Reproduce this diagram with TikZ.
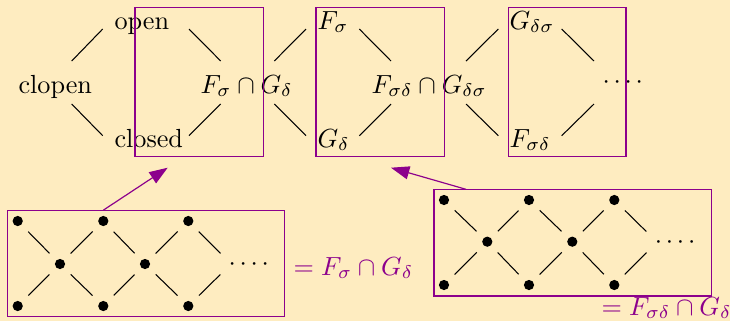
\documentclass[tikz,border=0pt]{standalone}
\usetikzlibrary{arrows.meta,fit}
\definecolor{bg}{RGB}{254,236,192}
\definecolor{vio}{RGB}{140,0,140}
\newcommand{\fourdots}{$\mathord{\cdot}\mkern2.6mu\mathord{\cdot}\mkern2.6mu\mathord{\cdot}\mkern2.6mu\mathord{\cdot}$}
\begin{document}
\begin{tikzpicture}[x=0.3817pt,y=-0.3817pt,
  lbl/.style={inner sep=0pt, anchor=base west},
  edge/.style={line width=0.4pt},
  dotn/.style={circle, fill, inner sep=0pt, minimum size=3.9pt},
  lat/.style={line width=0.4pt, shorten <=5.7pt, shorten >=5.7pt},
  frame/.style={draw=vio, line width=0.4pt, inner sep=0pt, fit=#1},
  arr/.style={draw=vio, line width=0.45pt, -{Triangle[length=7pt,width=5pt]}}
]
\fill[bg] (0,0) rectangle (730,321);
\useasboundingbox (0,0) rectangle (730,321);

% top row texts
\node[lbl] (clopen) at (18,93) {clopen};
\node[lbl] (open) at (114,29) {open};
\node[lbl] (closed) at (114,147) {closed};
\node[lbl] (fg) at (200,93) {$F_\sigma\cap G_\delta$};
\node[lbl] (fs) at (317,29) {$F_\sigma$};
\node[lbl] (gd) at (317,147) {$G_\delta$};
\node[lbl] (fg2) at (371,93) {$F_{\sigma\delta}\cap G_{\delta\sigma}$};
\node[lbl] (gds) at (509,29) {$G_{\delta\sigma}$};
\node[lbl] (fsd) at (509,147) {$F_{\sigma\delta}$};
\node[lbl] (tdots) at (602,88.5) {\fourdots};

% top connectors
\coordinate (l1a) at (71.7,61);   \coordinate (l1b) at (102.7,29);
\coordinate (l2a) at (71.7,104);  \coordinate (l2b) at (102.7,135.7);
\coordinate (l3a) at (189,29);    \coordinate (l3b) at (220.7,61);
\coordinate (l4a) at (189,135.7); \coordinate (l4b) at (220.7,104);
\coordinate (l5a) at (274.3,61);  \coordinate (l5b) at (306,29);
\coordinate (l6a) at (274.3,104); \coordinate (l6b) at (306,135.7);
\coordinate (l7a) at (359.3,29);  \coordinate (l7b) at (391,61);
\coordinate (l8a) at (359.3,135.7); \coordinate (l8b) at (391,104);
\coordinate (l9a) at (466,61);    \coordinate (l9b) at (498.3,29);
\coordinate (l10a) at (466,104);  \coordinate (l10b) at (498.3,135.7);
\coordinate (l11a) at (561.7,29); \coordinate (l11b) at (594,61);
\coordinate (l12a) at (561.7,135.7); \coordinate (l12b) at (594,104);
\foreach \i in {1,...,12} {\draw[edge] (l\i a) -- (l\i b);}

% top frames
\coordinate (b1a) at (135,7.3);   \coordinate (b1b) at (263.3,156.7);
\coordinate (b2a) at (316,7.3);   \coordinate (b2b) at (444.3,156.7);
\coordinate (b3a) at (508.3,7.3); \coordinate (b3b) at (626,156.7);
\node[frame=(b1a)(b1b)] (box1) {};
\node[frame=(b2a)(b2b)] (box2) {};
\node[frame=(b3a)(b3b)] (box3) {};

% bottom-left lattice
\node[dotn] (p11) at (17.7,221) {};
\node[dotn] (p12) at (103.3,221) {};
\node[dotn] (p13) at (188.3,221) {};
\node[dotn] (p21) at (60,264) {};
\node[dotn] (p22) at (145,264) {};
\node[dotn] (p31) at (17.7,306) {};
\node[dotn] (p32) at (103.3,306) {};
\node[dotn] (p33) at (188.3,306) {};
\coordinate (g1) at (231,264);
\foreach \a/\b in {p11/p21,p12/p21,p12/p22,p13/p22,p31/p21,p32/p21,p32/p22,p33/p22}
  {\draw[lat] (\a.center) -- (\b.center);}
\draw[lat] (p13.center) -- (g1);
\draw[lat] (p33.center) -- (g1);
\node[lbl] (bldots) at (228,270.5) {\fourdots};
\coordinate (c1a) at (7.3,210.7); \coordinate (c1b) at (284.3,316.7);
\node[frame=(c1a)(c1b)] (boxBL) {};
\node[lbl, text=vio] (labBL) at (293,275) {$=F_\sigma\cap G_\delta$};

% bottom-right lattice
\node[dotn] (q11) at (444,200) {};
\node[dotn] (q12) at (529,200) {};
\node[dotn] (q13) at (614.3,200) {};
\node[dotn] (q21) at (487.3,241.7) {};
\node[dotn] (q22) at (572.3,241.7) {};
\node[dotn] (q31) at (444,285) {};
\node[dotn] (q32) at (529,285) {};
\node[dotn] (q33) at (614.3,285) {};
\coordinate (g2) at (657,242);
\foreach \a/\b in {q11/q21,q12/q21,q12/q22,q13/q22,q31/q21,q32/q21,q32/q22,q33/q22}
  {\draw[lat] (\a.center) -- (\b.center);}
\draw[lat] (q13.center) -- (g2);
\draw[lat] (q33.center) -- (g2);
\node[lbl] (brdots) at (654.4,248) {\fourdots};
\coordinate (c2a) at (434,189.3); \coordinate (c2b) at (711.7,296);
\node[frame=(c2a)(c2b)] (boxBR) {};
\node[lbl, text=vio] (labBR) at (601,315) {$=F_{\sigma\delta}\cap G_{\delta\sigma}$};

% arrows
\coordinate (a1e) at (167.7,167.7);
\coordinate (a2s) at (466,189.3);
\coordinate (a2e) at (391,167.7);
\draw[arr] (p12 |- boxBL.north) -- (a1e);
\draw[arr] (a2s) -- (a2e);
\end{tikzpicture}
\end{document}
